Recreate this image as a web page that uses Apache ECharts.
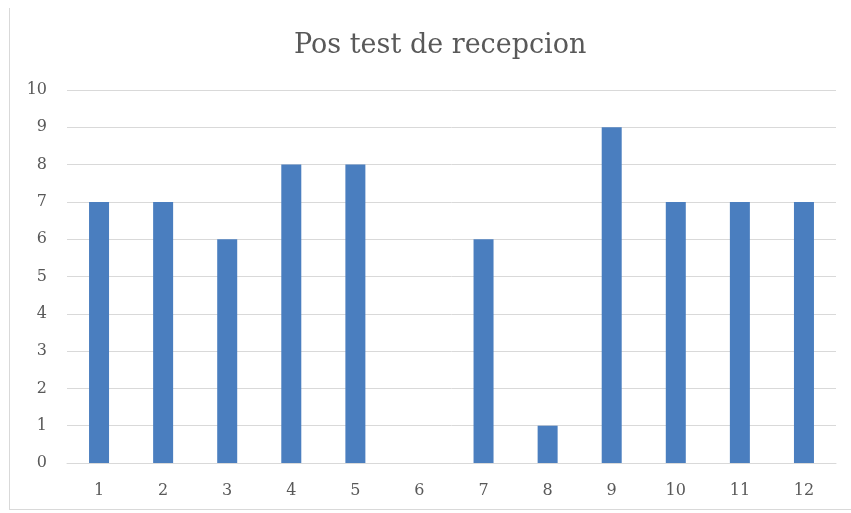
<!DOCTYPE html>
<html>
<head>
<meta charset="utf-8">
<script src="https://cdn.jsdelivr.net/npm/echarts@6/dist/echarts.min.js"></script>
<style>
html,body{margin:0;padding:0;background:#fff;}
#c{width:851px;height:513px;}
</style>
</head>
<body>
<div id="c"></div>
<script>
const categories = ['1','2','3','4','5','6','7','8','9','10','11','12'];
const values = [7,7,6,8,8,0,6,1,9,7,7,7];
const titleText = 'Pos test de recepcion';

const chart = echarts.init(document.getElementById('c'));
chart.setOption({
  backgroundColor: '#fff',
  animation: false,
  title: {
    text: titleText,
    left: 289,
    top: 27,
    textStyle: {fontFamily: 'DejaVu Serif', fontSize: 27, fontWeight: 'normal', color: '#595959'}
  },
  graphic: [
    {type: 'line', shape: {x1: 9.5, y1: 8, x2: 9.5, y2: 510}, style: {stroke: '#d9d9d9', lineWidth: 1}},
    {type: 'line', shape: {x1: 9, y1: 509.5, x2: 851, y2: 509.5}, style: {stroke: '#d9d9d9', lineWidth: 1}}
  ],
  grid: {left: 67, right: 15, top: 90, bottom: 50, containLabel: false},
  xAxis: {
    type: 'category',
    data: categories,
    axisLine: {lineStyle: {color: '#d9d9d9'}},
    axisTick: {show: false},
    axisLabel: {fontFamily: 'DejaVu Serif', fontSize: 16, color: '#595959', margin: 20}
  },
  yAxis: {
    type: 'value',
    min: 0, max: 10, interval: 1,
    axisLine: {show: false},
    axisTick: {show: false},
    splitLine: {lineStyle: {color: '#d9d9d9'}},
    axisLabel: {fontFamily: 'DejaVu Serif', fontSize: 16, color: '#595959', margin: 20}
  },
  series: [{
    type: 'bar',
    data: values,
    barWidth: 20,
    itemStyle: {color: '#4a7ebf'}
  }]
});
</script>
</body>
</html>
